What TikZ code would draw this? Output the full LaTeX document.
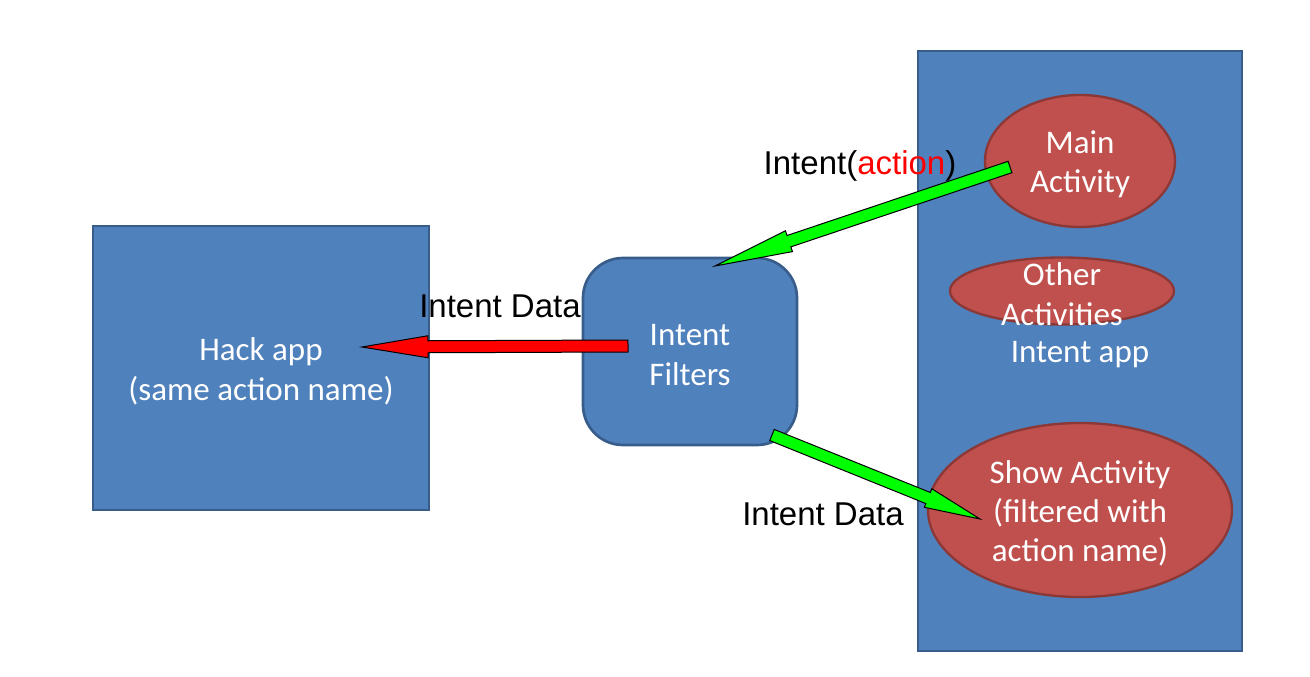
\documentclass[tikz,border=0pt]{standalone}
\usepackage{fontspec}
\setmainfont{Liberation Sans}
\newfontfamily\calibri{Carlito}
\usetikzlibrary{shapes.geometric,calc}

\definecolor{boxblue}{HTML}{4F81BD}
\definecolor{boxedge}{HTML}{385D8A}
\definecolor{actred}{HTML}{C0504D}
\definecolor{actedge}{HTML}{8C3836}
\definecolor{msggreen}{HTML}{00FF00}
\definecolor{msgred}{HTML}{FF0000}

% block arrow: #1 fill, #2 tail, #3 tip, #4 shaft half width, #5 head half width, #6 head length
\newcommand{\blockarrow}[6]{%
  \path ($(#3)!#6!(#2)$) coordinate (headbase);
  \filldraw[fill=#1, draw=black, line width=0.75pt, line join=miter]
    ($(#2)!#4!90:(#3)$) -- ($(headbase)!#4!-90:(#2)$) -- ($(headbase)!#5!-90:(#2)$) -- (#3)
    -- ($(headbase)!#5!90:(#2)$) -- ($(headbase)!#4!90:(#2)$) -- ($(#2)!#4!-90:(#3)$) -- cycle;
}

\tikzset{
  boxfont/.style={font=\calibri\fontsize{24.75}{29.6}\selectfont},
  appbox/.style={draw=boxedge, fill=boxblue, line width=2pt, inner sep=0pt},
  activity/.style={ellipse, draw=actedge, fill=actred, line width=1.75pt, inner sep=0pt},
  whitetext/.style={inner sep=0pt, align=center, text=white, boxfont, yshift=-2.5pt},
  msgtext/.style={inner sep=0pt, font=\fontsize{24.75}{29.25}\selectfont}
}

\begin{document}
\begin{tikzpicture}[x=0.75pt,y=0.75pt,yscale=-1,xscale=1]
		\useasboundingbox (0,0) rectangle (1310,677);

		%Shape: Rectangle
		\node [appbox, minimum width=243pt, minimum height=450pt,
		  label={[whitetext]center:Intent app}] (intentapp) at (1080,351) {};
		%Shape: Ellipse
		\node [activity, minimum width=142.5pt, minimum height=99pt,
		  label={[whitetext]center:{Main\\Activity}}] (main) at (1080,161) {};
		%Shape: Ellipse
		\node [activity, minimum width=168pt, minimum height=50.25pt,
		  label={[whitetext]center:{Other\\Activities}}] (other) at (1062,291) {};
		%Shape: Ellipse
		\node [activity, minimum width=228pt, minimum height=130.5pt,
		  label={[whitetext]center:{Show Activity\\(filtered with\\action name)}}] (show) at (1080,510) {};

		%Shape: Rectangle
		\node [appbox, minimum width=252pt, minimum height=213pt,
		  label={[whitetext]center:{Hack app\\(same action name)}}] (hack) at (261,368) {};
		%Rounded Rect
		\node [appbox, rounded corners=30pt, minimum width=160.5pt, minimum height=140.25pt,
		  label={[whitetext]center:{Intent\\Filters}}] (filters) at (690,351.5) {};

		%Block Arrows
		\coordinate (mainTail) at (1010,167);
		\coordinate (filtersIn) at (715,266);
		\coordinate (filtersOut) at (628,346);
		\coordinate (hackIn) at (362,347);
		\coordinate (showTail) at (772,435);
		\coordinate (showIn) at (980,519);
		\blockarrow{msggreen}{mainTail}{filtersIn}{4.5pt}{8.25pt}{58.5pt}
		\blockarrow{msgred}{filtersOut}{hackIn}{4.5pt}{8.25pt}{49.5pt}
		\blockarrow{msggreen}{showTail}{showIn}{4.5pt}{7.5pt}{42pt}

		% Text Node
		\node [msgtext] (actionmsg) at (860,166) {Intent(\textcolor{msgred}{action})};
		% Text Node
		\node [msgtext] (hackmsg) at (500,306) {Intent Data};
		% Text Node
		\node [msgtext] (showmsg) at (823,514) {Intent Data};

	\end{tikzpicture}
\end{document}
